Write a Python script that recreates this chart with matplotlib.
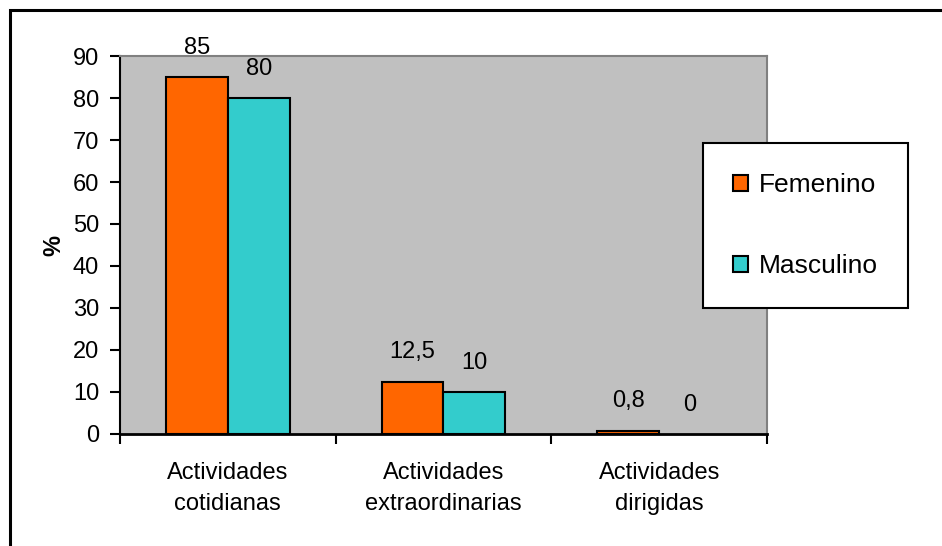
import matplotlib.pyplot as plt
import numpy as np
from matplotlib.patches import Rectangle

plt.rcParams['font.family'] = ['Liberation Sans', 'DejaVu Sans']

categories = ["Actividades\ncotidianas", "Actividades\nextraordinarias", "Actividades\ndirigidas"]
femenino = [85, 12.5, 0.8]
masculino = [80, 10, 0]
fem_labels = ["85", "12,5", "0,8"]
mas_labels = ["80", "10", "0"]

fig = plt.figure(figsize=(9.42, 5.46), dpi=100)
ax = fig.add_axes([120 / 942, 112 / 546, 647 / 942, 378 / 546])
ax.set_facecolor("#C0C0C0")

x = np.arange(len(categories))
w = 0.287
b1 = ax.bar(x - w / 2, femenino, w, color="#FF6600", edgecolor="black", linewidth=1.5, label="Femenino")
b2 = ax.bar(x + w / 2, masculino, w, color="#33CCCC", edgecolor="black", linewidth=1.5, label="Masculino")

# value labels above each bar, zero bars drawn without outline
for bars, labs in [(b1, fem_labels), (b2, mas_labels)]:
    for rect, lab in zip(bars, labs):
        if rect.get_height() == 0:
            rect.set_linewidth(0)
        ax.annotate(lab, (rect.get_x() + rect.get_width() / 2, rect.get_height()),
                    xytext=(0, 21), textcoords="offset points",
                    ha="center", va="center", fontsize=17)

ax.set_xlim(-0.5, 2.5)
ax.set_ylim(0, 90)
ax.set_yticks(range(0, 91, 10))
ax.set_xticks(x)
ax.set_xticklabels(categories, fontsize=17, linespacing=1.55)
ax.set_xticks([-0.5, 0.5, 1.5, 2.5], minor=True)
ax.tick_params(axis="x", which="major", length=0, pad=20)
ax.tick_params(axis="x", which="minor", length=7, width=1.5, direction="out")
ax.tick_params(axis="y", length=7, width=1.5, direction="out", labelsize=17, pad=8)
ax.set_ylabel("%", fontsize=17, fontweight="bold", labelpad=5)

ax.spines["left"].set_linewidth(1.5)
ax.spines["bottom"].set_linewidth(2)
ax.spines["top"].set_color("#808080")
ax.spines["right"].set_color("#808080")
ax.spines["top"].set_linewidth(1.5)
ax.spines["right"].set_linewidth(1.5)

leg = fig.legend(handles=[b1, b2], loc="upper left",
                 bbox_to_anchor=(703 / 942, 1 - 143 / 546),
                 fontsize=19, frameon=True, fancybox=False, shadow=False,
                 handlelength=0.55, handleheight=0.55, handletextpad=0.4,
                 labelspacing=2.15, borderpad=1.15, borderaxespad=0)
leg.get_frame().set_edgecolor("black")
leg.get_frame().set_linewidth(1.5)
leg.get_frame().set_alpha(1)

# outer chart frame
fig.add_artist(Rectangle((10 / 942, -0.1), 1.0, 1 - 10 / 546 + 0.1,
                         transform=fig.transFigure, fill=False, edgecolor="black", linewidth=2.2))

fig.savefig("out.png", dpi=100)
